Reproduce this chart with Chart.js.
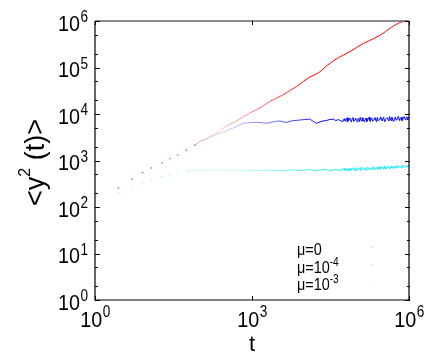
<!DOCTYPE html>
<html>
<head>
<meta charset="utf-8">
<script src="https://cdn.jsdelivr.net/npm/chart.js@4/dist/chart.umd.min.js"></script>
<style>
html,body{margin:0;padding:0;background:#fff;}
canvas{display:block;}
</style>
</head>
<body>
<canvas id="c" width="436" height="353"></canvas>
<script>
// ---- data (t, <y^2(t)>) ----
const legendLabels = [["μ=0",""],["μ=10","-4"],["μ=10","-3"]];
const xTickExponents = [0, 3, 6];
const yTickExponents = [0, 1, 2, 3, 4, 5, 6];

// mu = 0 (red)
const tRed = [2.8,5.1,8.1,12,19,27,38,56,81,102,126,158,195,251,302,398,525,708,933,1260,1660,2190,2820,3890,5250,7080,9550,12900,15800,20000,26300,35500,44700,56200,74100,100000,135000,178000,219000,275000,355000,427000,537000,676000,1000000];
const yRed = [257,398,550,692,891,1100,1320,1660,2140,2630,2880,3310,3720,4570,5250,6170,7240,8910,10700,12600,15100,18600,21400,25700,31600,38900,50100,63100,69200,81300,107000,138000,162000,186000,219000,269000,331000,380000,427000,490000,589000,692000,813000,933000,1070000];

// mu = 1e-4 (blue)
const tBlue = [2.8,5.1,8.1,12,19,27,38,56,81,102,126,158,195,240,302,363,437,537,676,832,1050,1320,1580,1910,2290,2820,3390,3980,4570,5250,6310,8130,10000,12600,14500,17000,20000,22900,26300,30200,35500,39800,44700,50100,55000];
const yBlue = [257,398,550,692,891,1100,1320,1660,2140,2570,2820,3160,3470,3890,4170,4570,5010,5620,6310,6460,6610,6610,6460,6310,6610,6920,7080,6760,6610,6920,7240,7410,7590,7760,7080,6310,6760,7080,7240,7590,7760,7240,7590,7080,6920];

// mu = 1e-3 (cyan)
const tCyan = [2.8,5.1,8.1,12,19,27,38,60,93,158,302,398,562,794,1000,1260,1580,2000,2510,3160,3980,5010,6310,7940,10000,12600,15800,20000,25100,31600,39800,50100];
const yCyan = [200,269,331,389,447,501,537,589,603,617,617,600,620,605,625,598,615,628,602,622,596,618,630,605,620,640,600,625,645,605,640,610];

// noisy late-time tails (two interleaved t grids)
const tTail = [57500,61700,66100,69200,74100,79400,85100,91200,95500,102000,110000,117000,126000,132000,141000,151000,162000,174000,182000,195000,209000,224000,240000,251000,269000,288000,309000,331000,347000,372000,398000,427000,457000,479000,513000,550000,589000,631000,661000,708000,759000,813000,871000,912000,977000,1000000];
const yBlueTail = [7900,6900,8300,7100,7700,6700,8400,7300,8100,6800,7600,8500,7000,7900,6700,8200,7400,8600,6900,7800,7200,8400,6800,8000,7500,8700,7100,8300,6900,8100,7600,8800,7200,8400,7000,8600,7700,8900,7300,8500,7500,8800,7600,8700,7900,8200];
const yCyanTail = [680,600,660,610,690,620,670,600,700,630,690,615,710,640,680,620,720,640,700,630,730,655,715,645,740,660,725,650,755,670,735,665,765,680,750,690,775,695,760,700,790,715,770,720,790,750];
const tTailMid = [59600,63900,67600,71600,76700,82200,88100,93300,98700,106000,113500,121500,129000,136500,146000,156500,168000,178000,188500,202000,216500,232000,245500,260000,278500,298500,320000,339000,359500,385000,412500,442000,468000,496000,531500,569500,610000,646000,684500,733500,786000,842000,891500,944500,988500];
const yBlueTailMid = [7300,7800,6900,8200,7400,8000,6900,7700,7200,8100,6900,7500,8300,7100,7800,6900,8100,7300,8200,7000,7900,7300,8300,7100,8200,7400,8400,7000,7700,8400,7200,7900,8500,7100,8000,7400,8500,7600,8100,7200,8600,7700,8300,7400,8600];
const yCyanTailMid = [630,665,615,650,600,685,640,690,610,675,640,700,625,665,700,630,690,660,645,710,640,700,670,720,650,710,680,735,660,720,700,680,740,705,675,760,700,735,720,770,705,750,735,780,760];

// ---- build datasets ----
function pts(ts, ys){ return ts.map((t,i)=>({x:t, y:ys[i]})); }
function byX(a,b){ return a.x - b.x; }
const redData = pts(tRed, yRed);
const blueData = pts(tBlue, yBlue).concat(pts(tTail, yBlueTail), pts(tTailMid, yBlueTailMid)).sort(byX);
const cyanData = pts(tCyan, yCyan).concat(pts(tTail, yCyanTail), pts(tTailMid, yCyanTailMid)).sort(byX);

function clamp(v){ return Math.max(0, Math.min(1, v)); }
function fader(rgb, start, span){
  return function(ctx){
    if (ctx.p1.parsed.x <= 90) return 'rgba(0,0,0,0)';
    const lt = Math.log10(ctx.p0.parsed.x);
    const a = 0.18 + 0.82*clamp((lt-start)/span);
    return 'rgba('+rgb+','+a.toFixed(3)+')';
  };
}
function mkSet(label, data, rgb, start, span){
  return {
    label: label,
    data: data,
    showLine: true,
    borderWidth: 1,
    borderColor: 'rgb('+rgb+')',
    tension: 0,
    pointRadius: c => (c.raw && c.raw.x < 90) ? 0.9 : 0,
    pointBorderWidth: 0,
    pointBackgroundColor: 'rgba('+rgb+',0.3)',
    pointHoverRadius: 0,
    segment: { borderColor: fader(rgb, start, span) }
  };
}

const F = 'Liberation Sans, Arial, Helvetica, sans-serif';
function txt(ctx, s, x, y, size, align, sx){
  ctx.save();
  ctx.font = size+'px '+F;
  ctx.translate(x, y);
  ctx.scale(sx, 1);
  ctx.textAlign = align;
  ctx.textBaseline = 'alphabetic';
  ctx.fillText(s, 0, 0);
  const w = ctx.measureText(s).width*sx;
  ctx.restore();
  return w;
}
function tw(ctx, s, size, sx){
  ctx.save(); ctx.font = size+'px '+F; const w = ctx.measureText(s).width*sx; ctx.restore(); return w;
}

const framePlugin = {
  id: 'frame',
  afterDraw(chart){
    const ctx = chart.ctx;
    const xs = chart.scales.x, ys = chart.scales.y;
    const L = xs.getPixelForValue(1), R = xs.getPixelForValue(1e6);
    const T = ys.getPixelForValue(1e6), B = ys.getPixelForValue(1);
    ctx.save();
    ctx.fillStyle = '#000';
    // frame
    ctx.lineWidth = 1.5;
    ctx.strokeStyle = '#666';
    ctx.beginPath(); ctx.moveTo(L, T); ctx.lineTo(R, T); ctx.stroke();
    ctx.lineWidth = 1.2;
    ctx.strokeStyle = '#000';
    ctx.beginPath();
    ctx.moveTo(R, T); ctx.lineTo(R, B); ctx.lineTo(L, B); ctx.lineTo(L, T);
    ctx.stroke();
    // y ticks (major + 2,5 minors) on both sides
    ctx.lineWidth = 1;
    ctx.strokeStyle = '#000';
    for (let k = 0; k <= 6; k++){
      [1,2,5].forEach(m => {
        const v = m*Math.pow(10,k);
        if (v > 1e6) return;
        const y = Math.round(ys.getPixelForValue(v)) + 0.5;
        const len = m === 1 ? 5 : 3;
        ctx.beginPath(); ctx.moveTo(L, y); ctx.lineTo(L+len, y); ctx.stroke();
        ctx.beginPath(); ctx.moveTo(R-len+1, y); ctx.lineTo(R+1, y); ctx.stroke();
      });
    }
    // x ticks
    xTickExponents.forEach(k => {
      const x = Math.round(xs.getPixelForValue(Math.pow(10,k))) + 0.5;
      ctx.beginPath(); ctx.moveTo(x, B); ctx.lineTo(x, B-4); ctx.stroke();
      ctx.beginPath(); ctx.moveTo(x, T); ctx.lineTo(x, T+4); ctx.stroke();
    });
    // y tick labels
    yTickExponents.forEach(k => {
      const y = ys.getPixelForValue(Math.pow(10,k));
      txt(ctx, '10', 80, y+9.5, 22, 'right', 0.9);
      txt(ctx, String(k), 80.5, y+1, 16, 'left', 0.85);
    });
    // x tick labels
    xTickExponents.forEach(k => {
      const x = xs.getPixelForValue(Math.pow(10,k));
      const w1 = tw(ctx, '10', 22, 0.9), w2 = tw(ctx, String(k), 16, 0.85);
      const x0 = x - (w1+w2)/2;
      txt(ctx, '10', x0, 326.5, 22, 'left', 0.9);
      txt(ctx, String(k), x0+w1+0.5, 317, 16, 'left', 0.85);
    });
    // x title
    txt(ctx, 't', (L+R)/2, 351, 22, 'center', 1);
    // y title (rotated)
    ctx.save();
    ctx.translate(44, (T+B)/2 + 2);
    ctx.rotate(-Math.PI/2);
    const a1 = tw(ctx, '<y', 27, 1), a2 = tw(ctx, '2', 16, 1), a3 = tw(ctx, ' (t)>', 27, 1);
    let x0 = -(a1+a2+a3)/2;
    txt(ctx, '<y', x0, 0, 27, 'left', 1);
    txt(ctx, '2', x0+a1, -14, 16, 'left', 1);
    txt(ctx, ' (t)>', x0+a1+a2, 0, 27, 'left', 1);
    ctx.restore();
    // legend
    const base = [255, 273, 290];
    const dotCols = ['rgba(255,0,0,0.25)','rgba(0,0,255,0.18)','rgba(0,200,255,0.18)'];
    legendLabels.forEach((lab, i) => {
      const w = txt(ctx, lab[0], 297, base[i], 16, 'left', 0.9);
      if (lab[1]) txt(ctx, lab[1], 297+w, base[i]-7, 12, 'left', 0.85);
      ctx.fillStyle = dotCols[i];
      ctx.fillRect(371, base[i]-9, 1.5, 1.5);
      ctx.fillStyle = '#000';
    });
    ctx.restore();
  }
};

new Chart(document.getElementById('c'), {
  type: 'scatter',
  data: {
    datasets: [
      mkSet('μ=0', redData, '255,0,0', 2.2, 1.8),
      mkSet('μ=10^-4', blueData, '0,0,255', 2.4, 2.0),
      mkSet('μ=10^-3', cyanData, '0,235,240', 2.5, 2.3)
    ]
  },
  options: {
    responsive: false,
    animation: false,
    events: [],
    layout: { padding: { left: 95, right: 27, top: 21, bottom: 53 } },
    plugins: { legend: { display: false }, tooltip: { enabled: false } },
    scales: {
      x: { type: 'logarithmic', min: 1, max: 1e6, display: false },
      y: { type: 'logarithmic', min: 1, max: 1e6, display: false }
    }
  },
  plugins: [framePlugin]
});
</script>
</body>
</html>
